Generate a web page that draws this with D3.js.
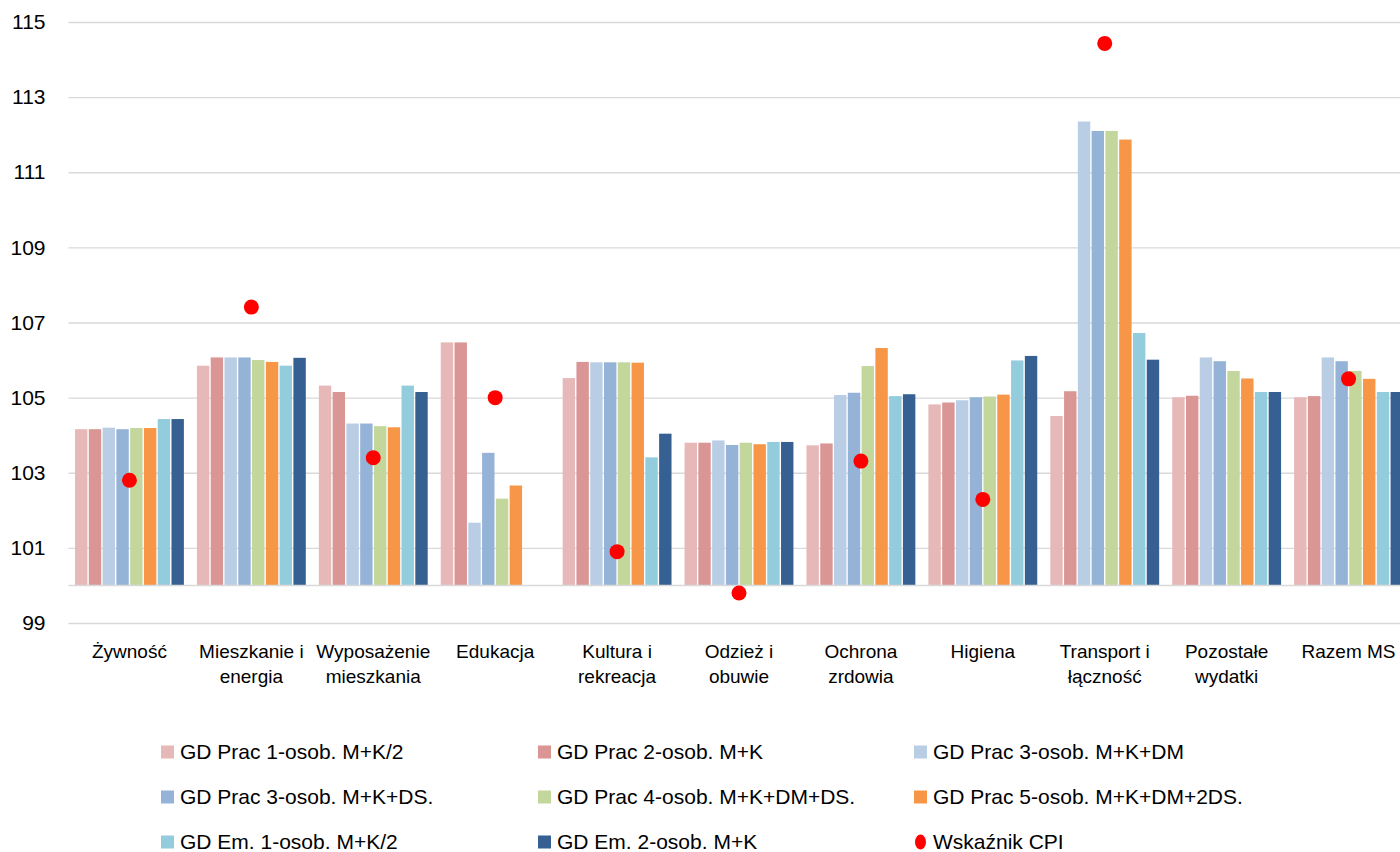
<!DOCTYPE html>
<html>
<head>
<meta charset="utf-8">
<script src="https://cdn.jsdelivr.net/npm/d3@7"></script>
<style>
  html, body { margin: 0; padding: 0; background: #fff; }
  svg { display: block; font-family: "Liberation Sans", Arial, sans-serif; }
</style>
</head>
<body>
<svg id="chart" width="1400" height="852"></svg>
<script>
const categories = [
  ["Żywność"], ["Mieszkanie i", "energia"], ["Wyposażenie", "mieszkania"], ["Edukacja"],
  ["Kultura i", "rekreacja"], ["Odzież i", "obuwie"], ["Ochrona", "zrdowia"], ["Higiena"],
  ["Transport i", "łączność"], ["Pozostałe", "wydatki"], ["Razem MS"]
];
const seriesNames = [
  "GD Prac 1-osob. M+K/2", "GD Prac 2-osob. M+K", "GD Prac 3-osob. M+K+DM",
  "GD Prac 3-osob. M+K+DS.", "GD Prac 4-osob. M+K+DM+DS.", "GD Prac 5-osob. M+K+DM+2DS.",
  "GD Em. 1-osob. M+K/2", "GD Em. 2-osob. M+K"
];
const cpiName = "Wskaźnik CPI";
const seriesColors = ["#E6B9B8", "#D99694", "#B9CDE5", "#95B3D7", "#C3D69B", "#F79646", "#93CDDD", "#376092"];
const cpiColor = "#FF0000";

// values per series, in category order
const s1 = [104.16, 105.85, 105.32, 106.47, 105.52, 103.80, 103.73, 104.82, 104.51, 105.01, 105.01];
const s2 = [104.16, 106.07, 105.15, 106.47, 105.95, 103.80, 103.78, 104.87, 105.17, 105.05, 105.04];
const s3 = [104.20, 106.07, 104.31, 101.67, 105.94, 103.86, 105.07, 104.93, 112.35, 106.07, 106.07];
const s4 = [104.16, 106.07, 104.31, 103.53, 105.94, 103.74, 105.13, 105.01, 112.10, 105.97, 105.97];
const s5 = [104.19, 106.00, 104.24, 102.31, 105.94, 103.80, 105.84, 105.03, 112.10, 105.71, 105.71];
const s6 = [104.19, 105.95, 104.21, 102.66, 105.93, 103.76, 106.32, 105.08, 111.87, 105.51, 105.50];
const s7 = [104.43, 105.85, 105.32, null,   103.41, 103.82, 105.04, 105.99, 106.72, 105.15, 105.15];
const s8 = [104.43, 106.06, 105.15, null,   104.04, 103.82, 105.09, 106.11, 106.01, 105.15, 105.15];
const cpi = [102.8, 107.41, 103.4, 105.0, 100.9, 99.8, 103.31, 102.29, 114.43, null, 105.5];
const yTicks = [99, 101, 103, 105, 107, 109, 111, 113, 115];
const baseValue = 100;

const seriesValues = [s1, s2, s3, s4, s5, s6, s7, s8];

const svg = d3.select("#chart");
const catKeys = categories.map(c => c.join(" "));

const y = d3.scaleLinear().domain([99, 115]).range([623, 22]);
const x0 = d3.scaleBand().domain(catKeys).range([68.5, 1409.5]).paddingInner(0.107).paddingOuter(0.0535);
const x1 = d3.scaleBand().domain(d3.range(seriesNames.length)).range([0, x0.bandwidth()]).paddingInner(0.1);

// gridlines
const yAxis = d3.axisLeft(y).tickValues(yTicks).tickSize(-(1409.5 - 68.5)).tickPadding(23).tickFormat(d3.format("d"));
const gy = svg.append("g").attr("transform", "translate(68.5,0)").call(yAxis);
gy.select(".domain").remove();
gy.selectAll(".tick line").attr("stroke", "#D9D9D9").attr("stroke-width", 1.3);
gy.selectAll(".tick text").attr("font-size", 21).attr("fill", "#000");

// bars
const groups = svg.append("g").selectAll("g").data(catKeys).join("g")
  .attr("transform", d => `translate(${x0(d)},0)`);
groups.selectAll("rect")
  .data((d, ci) => seriesValues.map((vals, si) => ({ si, v: vals[ci] })).filter(o => o.v != null))
  .join("rect")
  .attr("x", o => x1(o.si))
  .attr("width", x1.bandwidth())
  .attr("y", o => Math.min(y(o.v), y(baseValue)))
  .attr("height", o => Math.abs(y(o.v) - y(baseValue)))
  .attr("fill", o => seriesColors[o.si]);

// baseline at 100
svg.append("line")
  .attr("x1", 68.5).attr("x2", 1409.5)
  .attr("y1", y(baseValue)).attr("y2", y(baseValue))
  .attr("stroke", "#D9D9D9").attr("stroke-width", 1.5);

// CPI dots
svg.append("g").selectAll("circle")
  .data(catKeys.map((k, i) => ({ k, v: cpi[i] })).filter(o => o.v != null))
  .join("circle")
  .attr("cx", o => x0(o.k) + x0.bandwidth() / 2)
  .attr("cy", o => y(o.v))
  .attr("r", 7.5)
  .attr("fill", cpiColor);

// category labels
const lab = svg.append("g").selectAll("text").data(categories).join("text")
  .attr("text-anchor", "middle")
  .attr("font-size", 19)
  .attr("fill", "#000")
  .attr("x", (d, i) => x0(catKeys[i]) + x0.bandwidth() / 2)
  .attr("y", 658);
lab.selectAll("tspan").data(d => d).join("tspan")
  .attr("x", function() { return d3.select(this.parentNode).attr("x"); })
  .attr("dy", (d, i) => i === 0 ? 0 : 25)
  .text(d => d);

// legend
const legendItems = seriesNames.map((n, i) => ({ name: n, color: seriesColors[i], type: "rect" }))
  .concat([{ name: cpiName, color: cpiColor, type: "dot" }]);
const colX = [161, 538, 914];
const rowY = [752, 797, 842];
const lg = svg.append("g").selectAll("g").data(legendItems).join("g")
  .attr("transform", (d, i) => `translate(${colX[i % 3]},${rowY[Math.floor(i / 3)]})`);
lg.filter(d => d.type === "rect").append("rect")
  .attr("x", 0).attr("y", -6.5).attr("width", 13).attr("height", 13).attr("fill", d => d.color);
lg.filter(d => d.type === "dot").append("ellipse")
  .attr("cx", 6.5).attr("cy", 0).attr("rx", 5.5).attr("ry", 7.5).attr("fill", d => d.color);
lg.append("text")
  .attr("x", 19).attr("y", 0).attr("dy", "0.35em")
  .attr("font-size", 21).attr("fill", "#000")
  .text(d => d.name);
</script>
</body>
</html>
